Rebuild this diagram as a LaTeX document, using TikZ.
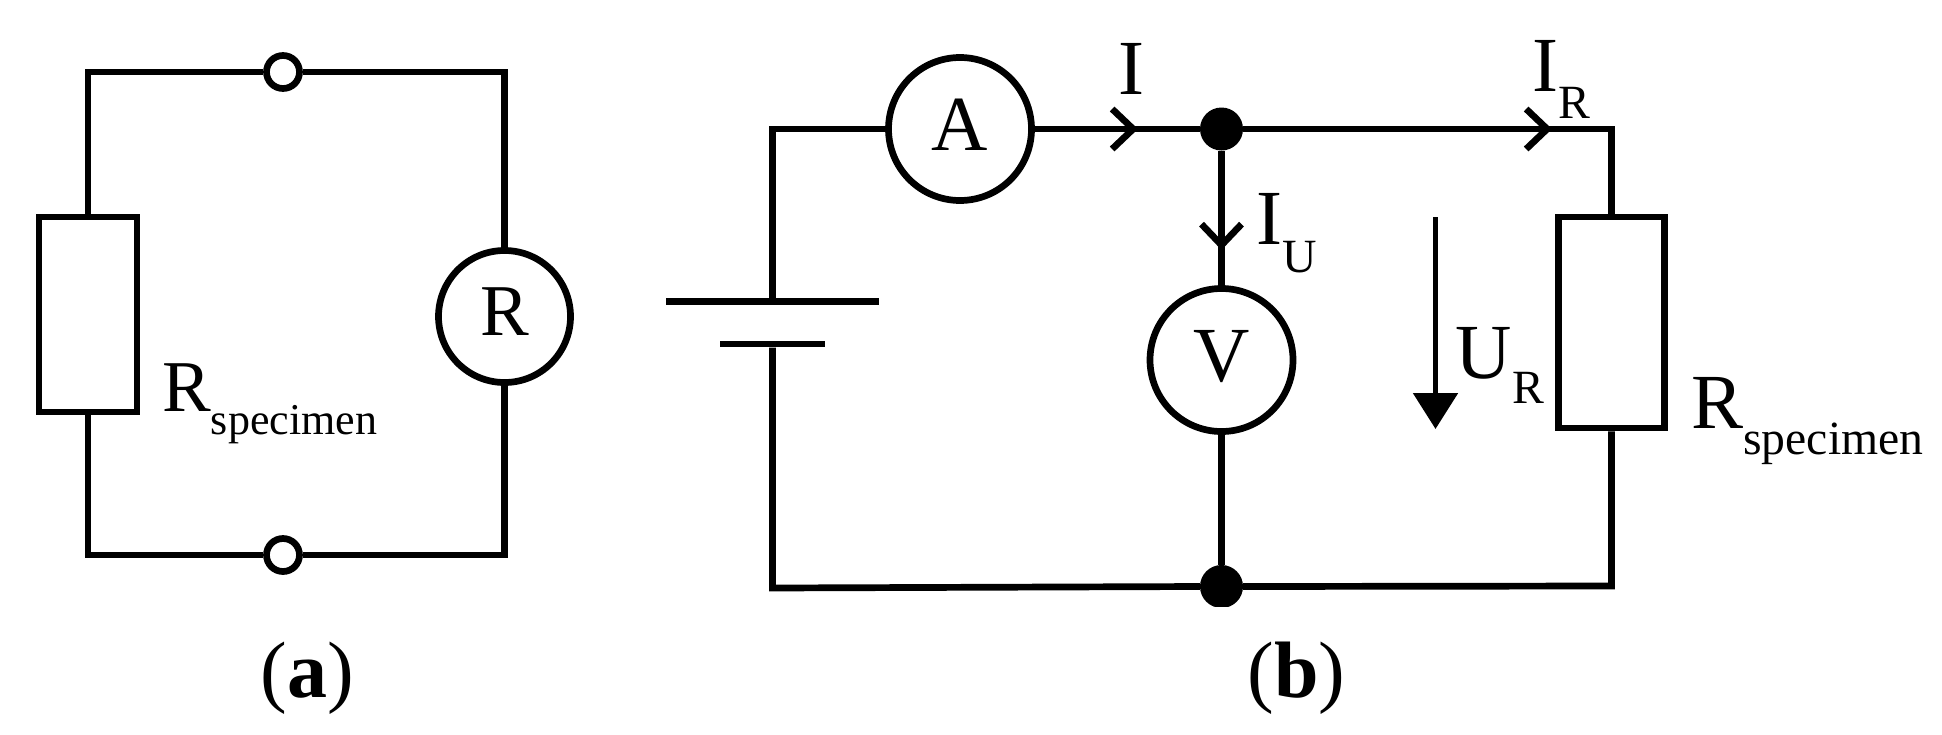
\documentclass[tikz,border=0pt]{standalone}
\usepackage{fontspec}
\usepackage{xcolor}
\setmainfont{Liberation Serif}
\usetikzlibrary{shapes,arrows.meta,positioning}
\newcommand{\withidx}[4]{#1\raisebox{-#3pt}{\fontsize{#4}{#4}\selectfont #2}}

\begin{document}
\begin{tikzpicture}[
    x=1pt, y=-1pt,
    wire/.style={line width=6.7pt},
    barb/.style={line width=6.7pt, -{Straight Barb[length=21pt, width=40pt, line width=6.7pt]}},
    voltarrow/.style={line width=5.5pt, -{Triangle[length=36pt, width=44pt]}},
    resistor/.style={rectangle, draw, line width=6.7pt, fill=white, minimum width=98pt, inner sep=0pt},
    terminal/.style={circle, draw, line width=6.7pt, fill=white, minimum size=33pt, inner sep=0pt},
    junction/.style={circle, fill=black, minimum size=43pt, inner sep=0pt},
    meter/.style={circle, draw, line width=6.7pt, fill=white, minimum size=#1, inner sep=0pt, text depth=9pt},
    plate/.style={rectangle, fill=black, minimum height=6.7pt, inner sep=0pt},
    smalltext/.style={anchor=base west, inner sep=0pt, font=\fontsize{73}{73}\selectfont},
    bigtext/.style={anchor=base west, inner sep=0pt, font=\fontsize{78}{78}\selectfont},
    caption/.style={anchor=base, inner sep=0pt, font=\fontsize{80}{80}\selectfont}
]
\useasboundingbox (0,0) rectangle (1942,734);

\node[terminal] (ta) at (283,72) {};
\node[terminal] (tb) at (283,555) {};
\node[resistor, minimum height=195pt] (rs) at (88,314.5) {};
\node[meter=132pt, font=\fontsize{73}{73}\selectfont] (ohm) at (504.5,316.5) {R};
\node[smalltext] (rslabel) at (162,411) {\withidx{R}{specimen}{23.5}{44}};
\node[caption] (capa) at (307,697) {(\textbf{a})};

\draw[wire] (ta) -| (rs.north);
\draw[wire] (tb) -| (rs.south);
\draw[wire] (ta) -| (ohm.north);
\draw[wire] (tb) -| (ohm.south);

\node[plate, minimum width=213pt] (plus) at (772.5,301.5) {};
\node[plate, minimum width=105pt] (minus) at (772.5,344) {};
\node[meter=143pt, font=\fontsize{78}{78}\selectfont] (amp) at (960,129) {A};
\node[meter=143pt, font=\fontsize{78}{78}\selectfont] (volt) at (1221.5,360) {V};
\node[junction] (jt) at (1221.5,129) {};
\begin{scope}
\clip (1190,490) rectangle (1254,606);
\node[junction] (jb) at (1221.5,586.5) {};
\end{scope}
\node[resistor, minimum width=106pt, minimum height=211pt] (rb) at (1611.5,322.5) {};

\coordinate (tipi) at (1138,129);
\coordinate (tipr) at (1552,129);
\coordinate (tipu) at (1221.5,250);
\coordinate (cornerl) at (772.5,588);
\coordinate (cornerr) at (1611.5,586);
\coordinate (ustart) at (1435.5,217);
\coordinate (uend) at (1435.5,429);

\draw[wire] (amp.west) -| (plus.north);
\draw[wire] (minus.south) -- (cornerl) -- (jb.west);
\draw[wire] (jb.east) -- (cornerr) -- (rb.south);
\draw[wire] (amp.east) -- (jt.west);
\draw[barb] (amp.east) -- (tipi);
\draw[wire] (jt.east) -| (rb.north);
\draw[barb] (jt.east) -- (tipr);
\draw[wire] (jt.south) -- (volt.north);
\draw[barb] (jt.south) -- (tipu);
\draw[wire] (volt.south) -- (jb.north);
\draw[voltarrow] (ustart) -- (uend);

\node[bigtext] (li) at (1118.5,94) {I};
\node[bigtext] (liu) at (1256.5,244) {\withidx{I}{U}{28}{47.7}};
\node[bigtext] (lir) at (1532.6,91) {\withidx{I}{R}{27}{47.7}};
\node[bigtext] (lur) at (1455.6,378) {\withidx{U}{R}{25.5}{47.7}};
\node[bigtext] (rblabel) at (1691,428) {\withidx{R}{specimen}{26}{47.7}};
\node[caption] (capb) at (1296.5,697) {(\textbf{b})};
\end{tikzpicture}
\end{document}
